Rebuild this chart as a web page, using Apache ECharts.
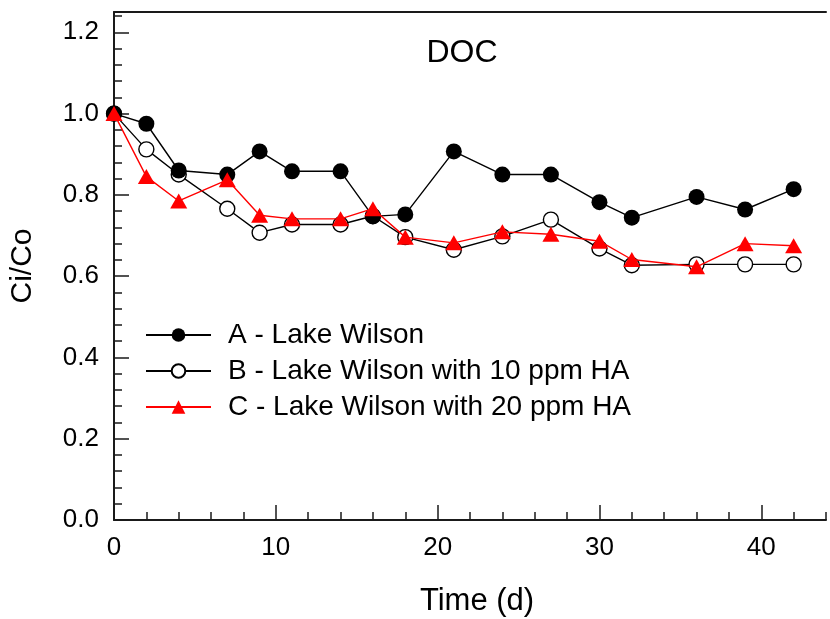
<!DOCTYPE html>
<html><head><meta charset="utf-8">
<script src="https://cdn.jsdelivr.net/npm/echarts@6/dist/echarts.min.js"></script>
<style>html,body{margin:0;padding:0;background:#fff}#c{width:830px;height:619px}</style>
</head><body><div id="c"></div>
<script>
// ---- data ----
const days = [0, 2, 4, 7, 9, 11, 14, 16, 18, 21, 24, 27, 30, 32, 36, 39, 42];
const seriesA = [1.0, 0.975, 0.86, 0.85, 0.907, 0.858, 0.858, 0.747, 0.752, 0.907, 0.85, 0.85, 0.782, 0.744, 0.795, 0.764, 0.814];
const seriesB = [1.0, 0.912, 0.85, 0.766, 0.707, 0.727, 0.727, 0.748, 0.696, 0.665, 0.698, 0.739, 0.668, 0.627, 0.629, 0.629, 0.629];
const seriesC = [1.0, 0.845, 0.785, 0.837, 0.75, 0.741, 0.741, 0.766, 0.696, 0.682, 0.709, 0.703, 0.686, 0.641, 0.623, 0.68, 0.675];
const seriesNames = ['A - Lake Wilson', 'B - Lake Wilson with 10 ppm HA', 'C - Lake Wilson with 20 ppm HA'];
const chartTitle = 'DOC';
const xName = 'Time (d)';
const yName = 'Ci/Co';
const xMin = 0, xMax = 44, xMajor = 10, xMinor = 2;
const yMin = 0, yMax = 1.25, yMajor = 0.2, yMinor = 0.04;

const pairs = ys => days.map((d, i) => [d, ys[i]]);
const FONT = '"Liberation Sans", Arial, Helvetica, sans-serif';
const AX = '#1a1a1a';

const chart = echarts.init(document.getElementById('c'), null, {renderer: 'canvas'});
chart.setOption({
  animation: false,
  backgroundColor: '#fff',
  textStyle: {fontFamily: FONT},
  grid: {left: 114, top: 12, right: 4, bottom: 99, containLabel: false},
  graphic: [
    {type: 'text', x: 462, y: 53, style: {text: chartTitle, font: '32px ' + FONT, fill: '#000', textAlign: 'center', textVerticalAlign: 'middle'}},
    {type: 'text', x: 477, y: 601, style: {text: xName, font: '31px ' + FONT, fill: '#000', textAlign: 'center', textVerticalAlign: 'middle'}},
    {type: 'text', x: 23, y: 266, rotation: Math.PI / 2, style: {text: yName, font: '30px ' + FONT, fill: '#000', textAlign: 'center', textVerticalAlign: 'middle'}}
  ],
  legend: {
    left: 145, top: 320, orient: 'vertical', padding: 0,
    itemWidth: 65, itemHeight: 17, itemGap: 6,
    textStyle: {fontSize: 28, color: '#000', fontFamily: FONT, lineHeight: 30, padding: [0, 0, 0, 12]},
    data: seriesNames
  },
  xAxis: [
    {type: 'value', position: 'bottom', min: xMin, max: xMax, interval: xMajor,
     axisLine: {show: true, onZero: false, lineStyle: {color: AX, width: 2}},
     axisTick: {show: true, inside: true, length: 15, lineStyle: {color: AX, width: 1.5}},
     axisLabel: {show: true, margin: 15, fontSize: 26, color: '#000', fontFamily: FONT, showMaxLabel: false},
     splitLine: {show: false}},
    {type: 'value', position: 'bottom', min: xMin, max: xMax, interval: xMinor,
     axisLine: {show: false, onZero: false},
     axisTick: {show: true, inside: true, length: 8, lineStyle: {color: AX, width: 1.5}},
     axisLabel: {show: false}, splitLine: {show: false}},
    {type: 'value', position: 'top', min: xMin, max: xMax,
     axisLine: {show: true, onZero: false, lineStyle: {color: AX, width: 2}},
     axisTick: {show: false}, axisLabel: {show: false}, splitLine: {show: false}}
  ],
  yAxis: [
    {type: 'value', position: 'left', min: yMin, max: yMax, interval: yMajor,
     axisLine: {show: true, onZero: false, lineStyle: {color: AX, width: 2}},
     axisTick: {show: true, inside: true, length: 15, lineStyle: {color: AX, width: 1.5}},
     axisLabel: {show: true, margin: 15, fontSize: 26, color: '#000', fontFamily: FONT, showMaxLabel: false,
                 formatter: v => v.toFixed(1)},
     splitLine: {show: false}},
    {type: 'value', position: 'left', min: yMin, max: yMax, interval: yMinor,
     axisLine: {show: false, onZero: false},
     axisTick: {show: true, inside: true, length: 8, lineStyle: {color: AX, width: 1.5}},
     axisLabel: {show: false}, splitLine: {show: false}}
  ],
  series: [
    {name: seriesNames[0], type: 'line', data: pairs(seriesA), z: 3,
     symbol: 'circle', symbolSize: 16,
     lineStyle: {color: '#000', width: 1.4}, itemStyle: {color: '#000', borderColor: '#000', borderWidth: 0}},
    {name: seriesNames[1], type: 'line', data: pairs(seriesB), z: 2,
     symbol: 'circle', symbolSize: 15,
     lineStyle: {color: '#000', width: 1.4}, itemStyle: {color: '#fff', borderColor: '#000', borderWidth: 1.4}},
    {name: seriesNames[2], type: 'line', data: pairs(seriesC), z: 4,
     symbol: 'triangle', symbolSize: [17, 15],
     lineStyle: {color: '#ff0000', width: 1.4}, itemStyle: {color: '#ff0000', borderWidth: 0}}
  ]
});
</script></body></html>
